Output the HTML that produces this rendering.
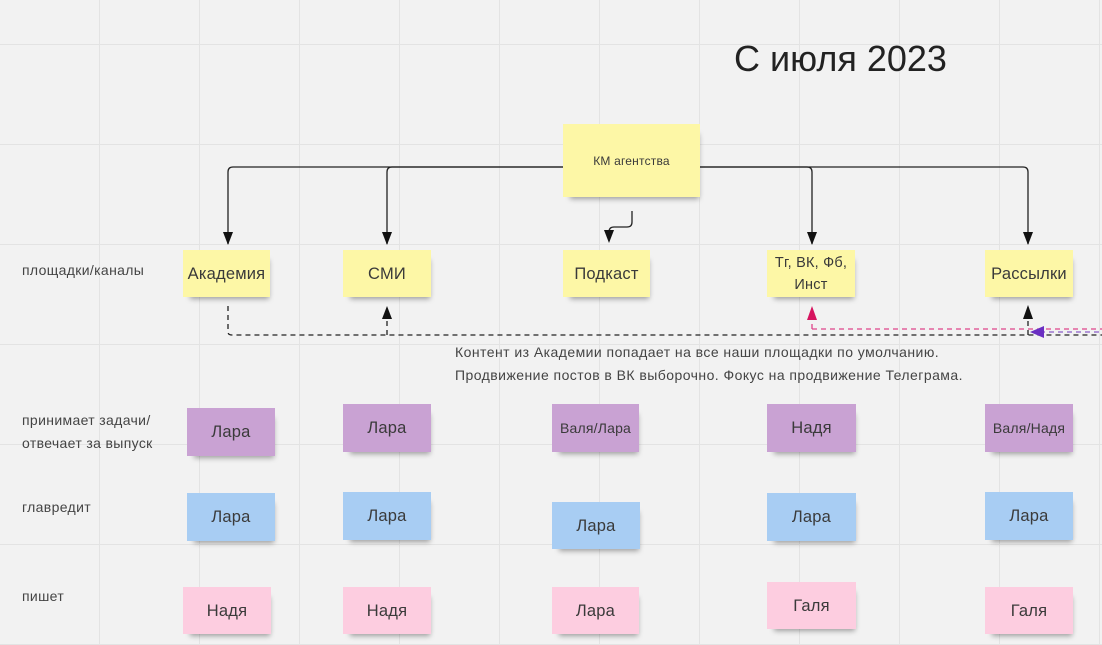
<!DOCTYPE html>
<html><head><meta charset="utf-8">
<style>
html,body{margin:0;padding:0}
body{width:1102px;height:645px;position:relative;overflow:hidden;background:#f2f2f2;
font-family:"Liberation Sans","Noto Sans CJK SC",sans-serif;color:#333;
background-image:linear-gradient(to right,#e3e3e3 1px,transparent 1px),linear-gradient(to bottom,#e3e3e3 1px,transparent 1px);
background-size:100px 100px;background-position:99px 44px;}
.s{position:absolute;display:flex;align-items:center;justify-content:center;text-align:center;font-size:16.5px;color:#3a3a3a;box-shadow:3px 6px 5px -4px rgba(0,0,0,0.35);line-height:22px;letter-spacing:0.2px}
.y{background:#fdf7a6}.p{background:#c9a2d3}.b{background:#a8cdf3}.k{background:#fdcde0}
.l{position:absolute;font-size:14px;color:#444;line-height:23px;letter-spacing:0.35px}
</style></head><body>
<div style="position:absolute;left:734px;top:38px;font-size:36px;color:#222">С июля 2023</div>

<svg width="1102" height="645" style="position:absolute;left:0;top:0">
<g fill="none" stroke="#222" stroke-width="1.3">
<path d="M563,167 H233 Q228,167 228,172 V244"/>
<path d="M563,167 H392 Q387,167 387,172 V244"/>
<path d="M700,167 H807 Q812,167 812,172 V244"/>
<path d="M700,167 H1023 Q1028,167 1028,172 V244"/>
<path d="M632,211 V222 Q632,227 627,227 H614 Q609,227 609,232 V238"/>
</g>
<g fill="#111">
<path d="M223,232 L228,245 L233,232 Z"/>
<path d="M382,232 L387,245 L392,232 Z"/>
<path d="M604,230 L609,243 L614,230 Z"/>
<path d="M807,232 L812,245 L817,232 Z"/>
<path d="M1023,232 L1028,245 L1033,232 Z"/>
</g>
<g fill="none" stroke-width="1.3" stroke-dasharray="5,4">
<path d="M228,306 V332 Q228,335 232,335 H1102" stroke="#222"/>
<path d="M387,335 V312" stroke="#222"/>
<path d="M1028,335 V312" stroke="#222"/>
<path d="M812,329 H1102" stroke="#e0448a"/>
<path d="M812,329 V316" stroke="#e0448a"/>
<path d="M1040,332 H1102" stroke="#8b5ec8"/>
</g>
<path d="M382,319 L387,306 L392,319 Z" fill="#111"/>
<path d="M1023,319 L1028,305 L1033,319 Z" fill="#111"/>
<path d="M807,320 L812,306 L817,320 Z" fill="#d6145f"/>
<path d="M1030,332 L1044,326 L1044,338 Z" fill="#6a2fc2"/>
</svg>

<div class="s y" style="left:563px;top:124px;width:137px;height:73px;font-size:12px">КМ агентства</div>
<div class="s y" style="left:183px;top:250px;width:87px;height:47px">Академия</div>
<div class="s y" style="left:343px;top:250px;width:88px;height:47px">СМИ</div>
<div class="s y" style="left:563px;top:250px;width:87px;height:47px">Подкаст</div>
<div class="s y" style="left:767px;top:250px;width:88px;height:47px;font-size:14.5px">Тг, ВК, Фб,<br>Инст</div>
<div class="s y" style="left:985px;top:250px;width:88px;height:47px">Рассылки</div>

<div class="l" style="left:22px;top:259px">площадки/каналы</div>
<div class="l" style="left:455px;top:341px;font-size:14px;letter-spacing:0.45px">Контент из Академии попадает на все наши площадки по умолчанию.<br>Продвижение постов в ВК выборочно. Фокус на продвижение Телеграма.</div>
<div class="l" style="left:22px;top:409px">принимает задачи/<br>отвечает за выпуск</div>
<div class="l" style="left:22px;top:496px">главредит</div>
<div class="l" style="left:22px;top:585px">пишет</div>

<div class="s p" style="left:187px;top:408px;width:88px;height:48px">Лара</div>
<div class="s p" style="left:343px;top:404px;width:88px;height:48px">Лара</div>
<div class="s p" style="left:552px;top:404px;width:87px;height:48px;font-size:14px">Валя/Лара</div>
<div class="s p" style="left:767px;top:404px;width:89px;height:48px">Надя</div>
<div class="s p" style="left:985px;top:404px;width:88px;height:48px;font-size:14px">Валя/Надя</div>

<div class="s b" style="left:187px;top:493px;width:88px;height:48px">Лара</div>
<div class="s b" style="left:343px;top:492px;width:88px;height:48px">Лара</div>
<div class="s b" style="left:552px;top:502px;width:88px;height:47px">Лара</div>
<div class="s b" style="left:767px;top:493px;width:89px;height:48px">Лара</div>
<div class="s b" style="left:985px;top:492px;width:88px;height:48px">Лара</div>

<div class="s k" style="left:183px;top:587px;width:88px;height:47px">Надя</div>
<div class="s k" style="left:343px;top:587px;width:88px;height:47px">Надя</div>
<div class="s k" style="left:552px;top:587px;width:87px;height:47px">Лара</div>
<div class="s k" style="left:767px;top:582px;width:89px;height:47px">Галя</div>
<div class="s k" style="left:985px;top:587px;width:88px;height:47px">Галя</div>
</body></html>
